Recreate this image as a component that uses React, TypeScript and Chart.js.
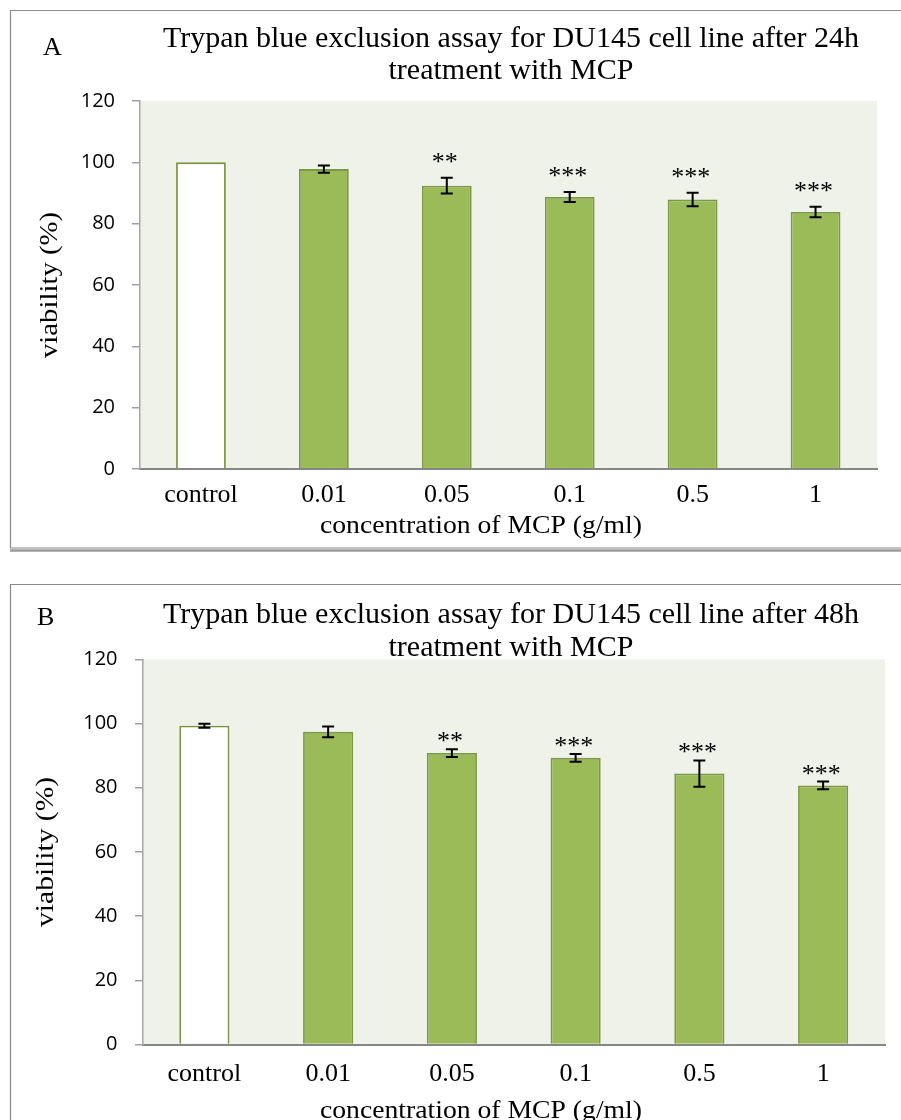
import React, { useEffect, useRef } from "react";
import { Chart, registerables } from "chart.js";

Chart.register(...registerables);

// ---------- data ----------
const categories = ["control", "0.01", "0.05", "0.1", "0.5", "1"];
const yTickValues = [0, 20, 40, 60, 80, 100, 120];

const viability24h = [100, 97.8, 92.4, 88.7, 87.9, 83.8];
const error24h = [0, 1.2, 2.6, 1.6, 2.2, 1.7];
const stars24h = ["", "", "**", "***", "***", "***"];

const viability48h = [99.3, 97.4, 90.8, 89.3, 84.4, 80.7];
const error48h = [0.6, 1.7, 1.2, 1.2, 4.1, 1.2];
const stars48h = ["", "", "**", "***", "***", "***"];

const title24h = ["Trypan blue exclusion assay for DU145 cell line after 24h", "treatment with MCP"];
const title48h = ["Trypan blue exclusion assay for DU145 cell line after 48h", "treatment with MCP"];
const xAxisTitle = "concentration of MCP (g/ml)";
const yAxisTitle = "viability (%)";

// ---------- layout ----------
const W = 901;
const H = 560;
const X_AXIS_H = 60;
const SERIF = '"Liberation Serif", "Times New Roman", serif';
const SANS = '"Open Sans", "DejaVu Sans", sans-serif';

type Layout = {
  letter: string;
  letterX: number;
  letterY: number;
  titleBaselines: number[];
  titleX: number;
  area: { left: number; top: number; right: number; bottom: number };
  boxTop: number;
  boxBottom: number | null;
  xTickPad: number;
  yTickPad: number;
  xTitleX: number;
  xTitleBaseline: number;
  xTitleWidth: number;
  yTitleX: number;
  yTitleLen: number;
  starGap: number;
};

const layoutA: Layout = {
  letter: "A",
  letterX: 43,
  letterY: 55,
  titleBaselines: [47, 79],
  titleX: 511,
  area: { left: 139.5, top: 101, right: 877, bottom: 469 },
  boxTop: 10.5,
  boxBottom: 548,
  xTickPad: 13,
  yTickPad: 17,
  xTitleX: 481,
  xTitleBaseline: 533,
  xTitleWidth: 322,
  yTitleX: 50,
  yTitleLen: 146,
  starGap: 8,
};

const layoutB: Layout = {
  letter: "B",
  letterX: 37,
  letterY: 65,
  titleBaselines: [63, 96],
  titleX: 511,
  area: { left: 142.5, top: 99.3, right: 885, bottom: 484.5 },
  boxTop: 24.5,
  boxBottom: null,
  xTickPad: 17,
  yTickPad: 17.5,
  xTitleX: 481,
  xTitleBaseline: 558,
  xTitleWidth: 322,
  yTitleX: 46,
  yTitleLen: 150,
  starGap: 0,
};

function Panel(props: {
  top: number;
  layout: Layout;
  values: number[];
  errors: number[];
  stars: string[];
  title: string[];
}) {
  const ref = useRef<HTMLCanvasElement | null>(null);

  useEffect(() => {
    const canvas = ref.current;
    if (!canvas) return;
    const L = props.layout;
    const values = props.values;
    const errors = props.errors;
    const stars = props.stars;

    const decor = {
      id: "decor",
      beforeDraw(chart: any) {
        const { ctx, chartArea: a } = chart;
        ctx.save();
        ctx.fillStyle = "#EFF2E9";
        ctx.fillRect(a.left, a.top, a.right - a.left, a.bottom - a.top);
        ctx.restore();
      },
      afterDatasetsDraw(chart: any) {
        const ctx: CanvasRenderingContext2D = chart.ctx;
        const xs = chart.scales.x;
        const ys = chart.scales.y;
        ctx.save();
        ctx.strokeStyle = "#000000";
        ctx.lineWidth = 2;
        values.forEach((v, i) => {
          const e = errors[i];
          const px = xs.getPixelForValue(i);
          const pTop = ys.getPixelForValue(v + e);
          const pBot = ys.getPixelForValue(v - e);
          if (e > 0) {
            ctx.beginPath();
            ctx.moveTo(px, pTop);
            ctx.lineTo(px, pBot);
            ctx.moveTo(px - 6, pTop);
            ctx.lineTo(px + 6, pTop);
            ctx.moveTo(px - 6, pBot);
            ctx.lineTo(px + 6, pBot);
            ctx.stroke();
          }
          if (stars[i]) {
            ctx.fillStyle = "#000000";
            ctx.font = `26px ${SERIF}`;
            ctx.textAlign = "center";
            ctx.textBaseline = "alphabetic";
            ctx.fillText(stars[i], px - 2, pTop - L.starGap);
          }
        });
        ctx.restore();
      },
      afterDraw(chart: any) {
        const ctx: CanvasRenderingContext2D = chart.ctx;
        ctx.save();
        // frame
        ctx.strokeStyle = "#8a8a8a";
        ctx.lineWidth = 1.2;
        ctx.beginPath();
        ctx.moveTo(W, L.boxTop);
        ctx.lineTo(10.5, L.boxTop);
        ctx.lineTo(10.5, L.boxBottom === null ? H : L.boxBottom);
        if (L.boxBottom !== null) ctx.lineTo(W, L.boxBottom);
        ctx.stroke();
        if (L.boxBottom !== null) {
          ctx.strokeStyle = "#9a9a9a";
          ctx.lineWidth = 2.5;
          ctx.beginPath();
          ctx.moveTo(10, L.boxBottom + 2.5);
          ctx.lineTo(W, L.boxBottom + 2.5);
          ctx.stroke();
        }
        // panel letter
        ctx.fillStyle = "#000000";
        ctx.font = `26px ${SERIF}`;
        ctx.textAlign = "left";
        ctx.textBaseline = "alphabetic";
        ctx.fillText(L.letter, L.letterX, L.letterY);
        // title
        ctx.font = `30px ${SERIF}`;
        ctx.textAlign = "center";
        props.title.forEach((line, i) => {
          ctx.fillText(line, L.titleX, L.titleBaselines[i]);
        });
        // x axis title (slightly widened like the original)
        ctx.font = `26px ${SERIF}`;
        ctx.save();
        ctx.translate(L.xTitleX, L.xTitleBaseline);
        const wx = ctx.measureText(xAxisTitle).width;
        ctx.scale(L.xTitleWidth / wx, 1);
        ctx.textAlign = "center";
        ctx.fillText(xAxisTitle, 0, 0);
        ctx.restore();
        // y axis title
        const yc = (L.area.top + L.area.bottom) / 2;
        ctx.save();
        ctx.translate(L.yTitleX, yc);
        ctx.rotate(-Math.PI / 2);
        ctx.textBaseline = "middle";
        const wy = ctx.measureText(yAxisTitle).width;
        ctx.scale(L.yTitleLen / wy, 1);
        ctx.textAlign = "center";
        ctx.fillText(yAxisTitle, 0, 0);
        ctx.restore();
        ctx.restore();
      },
    };

    const chart = new Chart(canvas, {
      type: "bar",
      data: {
        labels: categories,
        datasets: [
          {
            data: values,
            backgroundColor: values.map((_, i) => (i === 0 ? "#FFFFFF" : "#9BBB59")),
            borderColor: values.map((_, i) => (i === 0 ? "#77933C" : "#7A9845")),
            borderWidth: 1.8,
            categoryPercentage: 1,
            barPercentage: 0.405,
          },
        ],
      },
      options: {
        responsive: false,
        animation: false,
        devicePixelRatio: 1,
        layout: {
          padding: {
            left: 0,
            top: L.area.top,
            right: W - L.area.right,
            bottom: H - L.area.bottom - X_AXIS_H,
          },
        },
        plugins: {
          legend: { display: false },
          title: { display: false },
          tooltip: { enabled: false },
        },
        scales: {
          x: {
            grid: { display: false, drawTicks: false, tickLength: 0 },
            border: { display: true, color: "#868686", width: 2, z: 1 },
            ticks: {
              font: { family: SERIF, size: 26, lineHeight: 1 },
              color: "#000000",
              padding: L.xTickPad,
              maxRotation: 0,
              autoSkip: false,
            },
            afterFit: (s: any) => {
              s.height = X_AXIS_H;
            },
          },
          y: {
            min: 0,
            max: 120,
            afterBuildTicks: (s: any) => {
              s.ticks = yTickValues.map((v) => ({ value: v }));
            },
            grid: {
              display: true,
              drawOnChartArea: false,
              drawTicks: true,
              tickLength: 7.5,
              color: "#a0a0a0",
              lineWidth: 1.5,
            },
            border: { display: true, color: "#a6a6a6", width: 1.5, z: 1 },
            ticks: {
              font: { family: SANS, size: 20 },
              color: "#000000",
              padding: L.yTickPad,
            },
            afterFit: (s: any) => {
              s.width = L.area.left;
            },
          },
        },
      },
      plugins: [decor],
    } as any);

    return () => chart.destroy();
  }, []);

  return (
    <canvas
      ref={ref}
      width={W}
      height={H}
      style={{ position: "absolute", left: 0, top: props.top, width: W, height: H, display: "block" }}
    />
  );
}

export default function App() {
  return (
    <div style={{ position: "absolute", left: 0, top: 0, width: W, height: 1120, background: "#ffffff", overflow: "hidden" }}>
      <Panel top={0} layout={layoutA} values={viability24h} errors={error24h} stars={stars24h} title={title24h} />
      <Panel top={560} layout={layoutB} values={viability48h} errors={error48h} stars={stars48h} title={title48h} />
    </div>
  );
}
